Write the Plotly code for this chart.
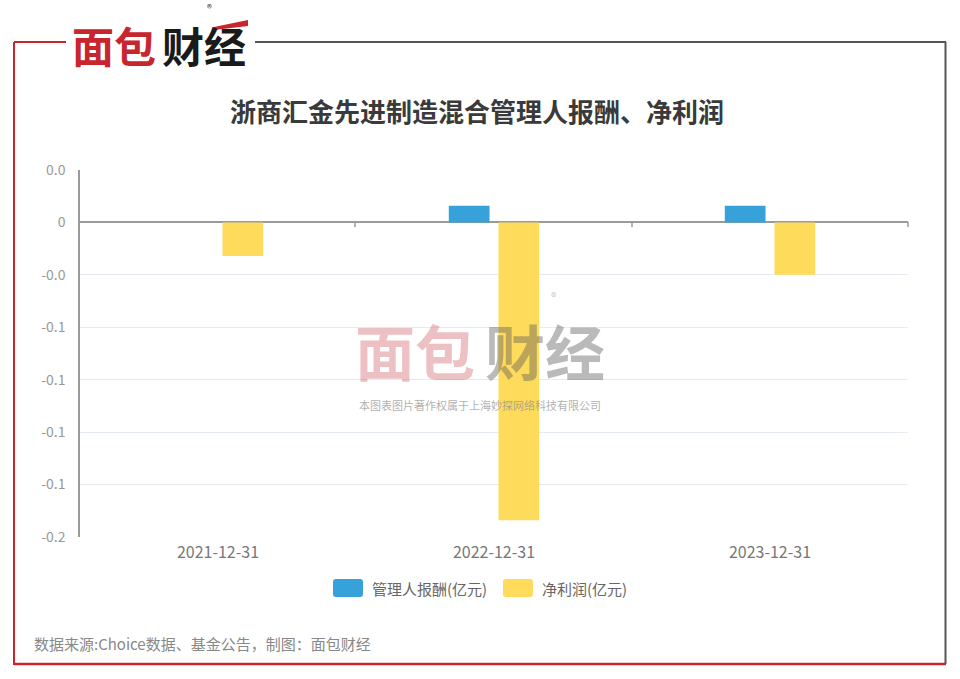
import plotly.graph_objects as go

# ---- data ----
categories = ["2021-12-31", "2022-12-31", "2023-12-31"]
fee_values = [0.0, 0.008, 0.008]          # 管理人报酬(亿元)
profit_values = [-0.016, -0.142, -0.025]  # 净利润(亿元)
series_names = ["管理人报酬(亿元)", "净利润(亿元)"]
series_colors = ["#37A2DA", "#FFDB5C"]
y_tick_vals = [0.025, 0.0, -0.025, -0.05, -0.075, -0.1, -0.125, -0.15]
y_tick_text = ["0.0", "0", "-0.0", "-0.1", "-0.1", "-0.1", "-0.1", "-0.2"]

W, H = 960, 679
L, R, T, B = 80, 908, 170, 537
YMIN, YMAX = -0.15, 0.025


def px(x):
    return (x - L) / (R - L)


def py(y):
    return (B - y) / (B - T)


FONT = "Noto Sans CJK SC, Microsoft YaHei, sans-serif"

fig = go.Figure()
fig.add_trace(go.Bar(x=categories, y=fee_values, name=series_names[0],
                     marker=dict(color=series_colors[0], line=dict(width=0))))
fig.add_trace(go.Bar(x=categories, y=profit_values, name=series_names[1],
                     marker=dict(color=series_colors[1], line=dict(width=0))))

RED = "#C8262E"
GRAY = "#555555"


def rounded_rect(x0, y0, x1, y1, r):
    return (f"M {px(x0 + r)},{py(y0)} L {px(x1 - r)},{py(y0)} "
            f"Q {px(x1)},{py(y0)} {px(x1)},{py(y0 + r)} L {px(x1)},{py(y1 - r)} "
            f"Q {px(x1)},{py(y1)} {px(x1 - r)},{py(y1)} L {px(x0 + r)},{py(y1)} "
            f"Q {px(x0)},{py(y1)} {px(x0)},{py(y1 - r)} L {px(x0)},{py(y0 + r)} "
            f"Q {px(x0)},{py(y0)} {px(x0 + r)},{py(y0)} Z")


shapes = [
    # frame
    dict(type="line", xref="paper", yref="paper", x0=px(14), x1=px(14), y0=py(42), y1=py(665),
         line=dict(color=RED, width=2)),
    dict(type="line", xref="paper", yref="paper", x0=px(14), x1=px(946), y0=py(664), y1=py(664),
         line=dict(color=RED, width=2.5)),
    dict(type="line", xref="paper", yref="paper", x0=px(14), x1=px(66), y0=py(42), y1=py(42),
         line=dict(color=RED, width=2)),
    dict(type="line", xref="paper", yref="paper", x0=px(255), x1=px(946), y0=py(42), y1=py(42),
         line=dict(color=GRAY, width=2)),
    dict(type="line", xref="paper", yref="paper", x0=px(945.5), x1=px(945.5), y0=py(42), y1=py(664),
         line=dict(color=GRAY, width=2)),
    # logo swoosh above 经
    dict(type="path", xref="paper", yref="paper",
         path=f"M {px(214)},{py(27)} L {px(248)},{py(20)} L {px(248)},{py(26)} L {px(214)},{py(30)} Z",
         fillcolor=RED, line=dict(width=0)),
    # zero-line tick marks at category boundaries
    dict(type="line", xref="paper", yref="paper", x0=px(355), x1=px(355), y0=py(222), y1=py(227),
         line=dict(color="#9a9a9a", width=1.5)),
    dict(type="line", xref="paper", yref="paper", x0=px(632), x1=px(632), y0=py(222), y1=py(227),
         line=dict(color="#9a9a9a", width=1.5)),
    dict(type="line", xref="paper", yref="paper", x0=px(908), x1=px(908), y0=py(222), y1=py(227),
         line=dict(color="#9a9a9a", width=1.5)),
    # legend swatches
    dict(type="path", xref="paper", yref="paper", path=rounded_rect(333, 579, 363, 597, 3),
         fillcolor=series_colors[0], line=dict(width=0)),
    dict(type="path", xref="paper", yref="paper", path=rounded_rect(503, 579, 533, 597, 3),
         fillcolor=series_colors[1], line=dict(width=0)),
]

annotations = [
    # logo
    dict(text="<b>面包</b>", x=px(114), y=py(44), xref="paper", yref="paper", showarrow=False,
         font=dict(family=FONT, size=42, color=RED), xanchor="center", yanchor="middle"),
    dict(text="<b>财经</b>", x=px(204), y=py(44), xref="paper", yref="paper", showarrow=False,
         font=dict(family=FONT, size=42, color="#1a1a1a"), xanchor="center", yanchor="middle"),
    dict(text="®", x=px(209), y=py(7), xref="paper", yref="paper", showarrow=False,
         font=dict(family=FONT, size=10, color="#333"), xanchor="center", yanchor="middle"),
    # title
    dict(text="<b>浙商汇金先进制造混合管理人报酬、净利润</b>", x=px(477), y=py(111), xref="paper", yref="paper",
         showarrow=False, font=dict(family=FONT, size=26, color="#3a3a3a"),
         xanchor="center", yanchor="middle"),
    # watermark
    dict(text="<b>面包</b>", x=px(415), y=py(349), xref="paper", yref="paper", showarrow=False,
         font=dict(family=FONT, size=60, color="rgba(200,60,70,0.32)"), xanchor="center", yanchor="middle"),
    dict(text="<b>财经</b>", x=px(545), y=py(349), xref="paper", yref="paper", showarrow=False,
         font=dict(family=FONT, size=60, color="rgba(90,90,90,0.42)"), xanchor="center", yanchor="middle"),
    dict(text="®", x=px(553), y=py(296), xref="paper", yref="paper", showarrow=False,
         font=dict(family=FONT, size=11, color="rgba(150,150,150,0.6)"), xanchor="center", yanchor="middle"),
    dict(text="本图表图片著作权属于上海妙探网络科技有限公司", x=px(480), y=py(405), xref="paper", yref="paper",
         showarrow=False, font=dict(family=FONT, size=11, color="rgba(140,140,140,0.7)"),
         xanchor="center", yanchor="middle"),
    # legend labels
    dict(text=series_names[0], x=px(370), y=py(588), xref="paper", yref="paper", showarrow=False,
         font=dict(family=FONT, size=15, color="#666"), xanchor="left", yanchor="middle"),
    dict(text=series_names[1], x=px(540), y=py(588), xref="paper", yref="paper", showarrow=False,
         font=dict(family=FONT, size=15, color="#666"), xanchor="left", yanchor="middle"),
    # footer
    dict(text="数据来源:Choice数据、基金公告，制图：面包财经", x=px(32), y=py(643), xref="paper", yref="paper",
         showarrow=False, font=dict(family=FONT, size=15, color="#888888"),
         xanchor="left", yanchor="middle"),
]

fig.update_layout(
    width=W, height=H,
    margin=dict(l=L, r=W - R, t=T, b=H - B, pad=0),
    paper_bgcolor="white", plot_bgcolor="white",
    barmode="group", bargap=0.64, bargroupgap=0.18,
    font=dict(family=FONT, color="#666"),
    showlegend=False,
    xaxis=dict(type="category", showgrid=False, showline=False, zeroline=False,
               ticks="", tickfont=dict(size=16, color="#777"), ticklabelstandoff=4),
    yaxis=dict(range=[YMIN, YMAX], tickvals=y_tick_vals, ticktext=y_tick_text,
               showgrid=True, gridcolor="#E6EAF3", gridwidth=1,
               zeroline=True, zerolinecolor="#9a9a9a", zerolinewidth=1.5,
               showline=True, linecolor="#9a9a9a", linewidth=1.5, ticks="",
               tickfont=dict(size=14, color="#999"), ticklabelstandoff=10),
    shapes=shapes,
    annotations=annotations,
)

fig.write_html("out.html", config={"displayModeBar": False},
               post_script="document.body.style.margin='0';document.body.style.overflow='hidden';")
